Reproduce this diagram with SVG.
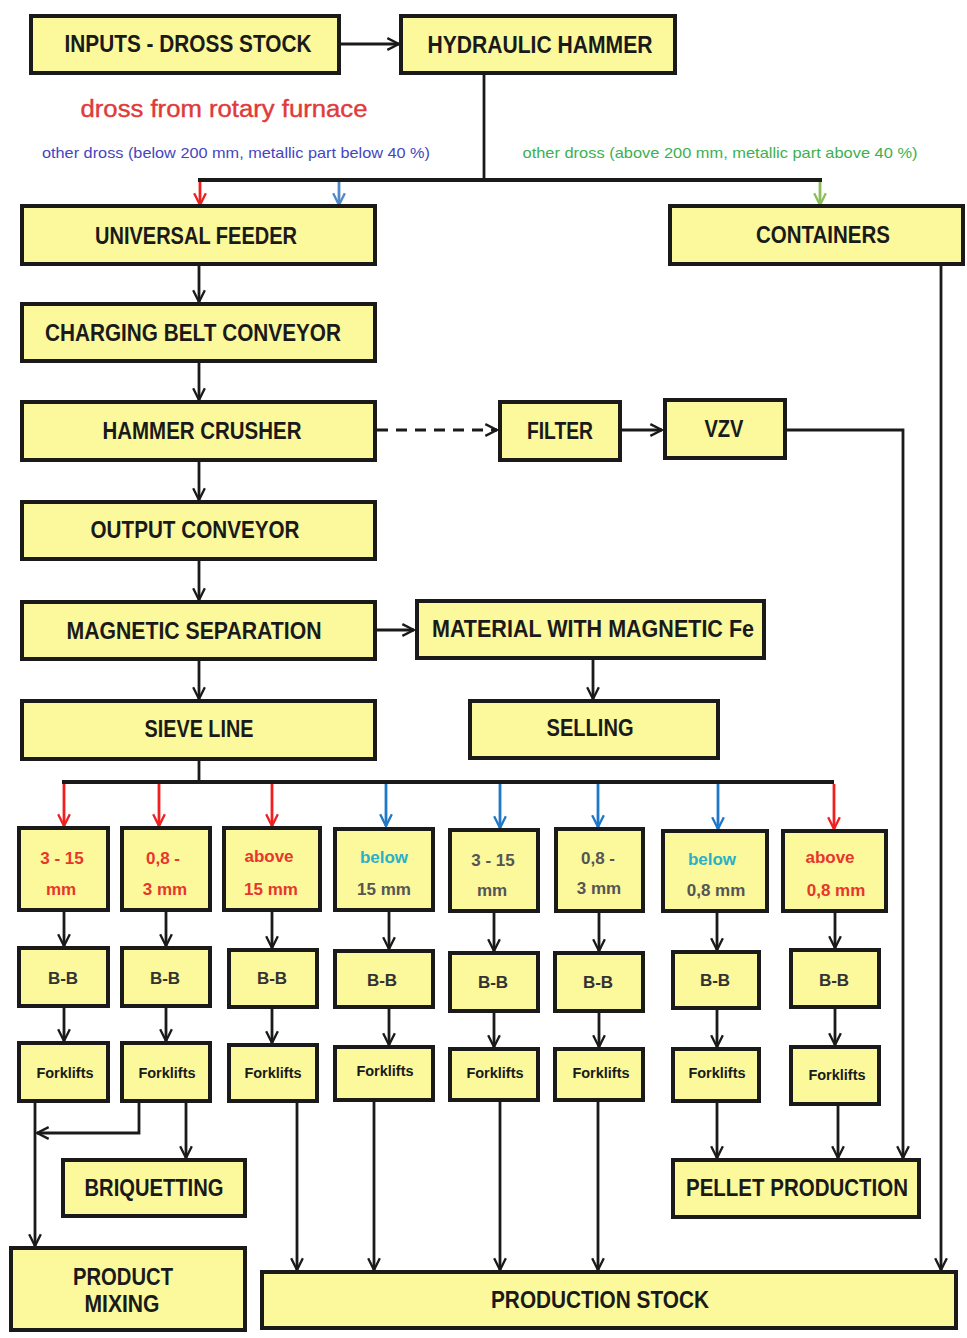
<svg xmlns="http://www.w3.org/2000/svg" width="967" height="1338" viewBox="0 0 967 1338">
<defs>
<style>
.box{fill:#fbf99b;stroke:#1a1a1a;stroke-width:4}
.t{font-family:"Liberation Sans",Arial,sans-serif;font-weight:bold;font-size:23px;fill:#1a1a1a;text-anchor:middle;dominant-baseline:central}
.s{font-family:"Liberation Sans",Arial,sans-serif;font-weight:bold;font-size:17px;text-anchor:middle;dominant-baseline:central}
.f{font-family:"Liberation Sans",Arial,sans-serif;font-weight:bold;font-size:14.5px;fill:#1a1a1a;text-anchor:middle;dominant-baseline:central}
.c{fill:none;stroke:#1a1a1a;stroke-width:2.8}
.bus{fill:none;stroke:#1a1a1a;stroke-width:4}
.red{fill:#e8362a}.gray{fill:#555}.cyan{fill:#2ab0c8}
</style>
<marker id="ak" viewBox="0 0 12 12" refX="11" refY="6" markerWidth="14" markerHeight="14" markerUnits="userSpaceOnUse" orient="auto"><path d="M1,1 L11,6 L1,11" fill="none" stroke="#1a1a1a" stroke-width="2"/></marker>
<marker id="ar" viewBox="0 0 12 12" refX="11" refY="6" markerWidth="14" markerHeight="14" markerUnits="userSpaceOnUse" orient="auto"><path d="M1,1 L11,6 L1,11" fill="none" stroke="#f02020" stroke-width="2"/></marker>
<marker id="ab" viewBox="0 0 12 12" refX="11" refY="6" markerWidth="14" markerHeight="14" markerUnits="userSpaceOnUse" orient="auto"><path d="M1,1 L11,6 L1,11" fill="none" stroke="#1f78c8" stroke-width="2"/></marker>
<marker id="ab2" viewBox="0 0 12 12" refX="11" refY="6" markerWidth="14" markerHeight="14" markerUnits="userSpaceOnUse" orient="auto"><path d="M1,1 L11,6 L1,11" fill="none" stroke="#5088c8" stroke-width="2"/></marker>
<marker id="ag" viewBox="0 0 12 12" refX="11" refY="6" markerWidth="14" markerHeight="14" markerUnits="userSpaceOnUse" orient="auto"><path d="M1,1 L11,6 L1,11" fill="none" stroke="#8cbf5a" stroke-width="2"/></marker>
</defs>
<rect width="967" height="1338" fill="#ffffff"/>

<g id="connectors">
<line class="c" x1="339" y1="44" x2="399" y2="44" marker-end="url(#ak)"/>
<line class="c" x1="484" y1="73" x2="484" y2="180"/>
<line class="bus" x1="198" y1="180" x2="822" y2="180"/>
<line stroke="#f02020" stroke-width="2.8" x1="200" y1="182" x2="200" y2="205" marker-end="url(#ar)"/>
<line stroke="#5088c8" stroke-width="2.8" x1="339" y1="182" x2="339" y2="205" marker-end="url(#ab2)"/>
<line stroke="#8cbf5a" stroke-width="2.8" x1="820" y1="182" x2="820" y2="205" marker-end="url(#ag)"/>
<line class="c" x1="199" y1="264" x2="199" y2="302" marker-end="url(#ak)"/>
<line class="c" x1="199" y1="361" x2="199" y2="400" marker-end="url(#ak)"/>
<line class="c" x1="377" y1="430" x2="497" y2="430" stroke-width="3.2" stroke-dasharray="11,8" marker-end="url(#ak)"/>
<line class="c" x1="620" y1="430" x2="662" y2="430" marker-end="url(#ak)"/>
<path class="c" d="M785,430 H903 V1158" marker-end="url(#ak)"/>
<line class="c" x1="941" y1="264" x2="941" y2="1270" marker-end="url(#ak)"/>
<line class="c" x1="199" y1="460" x2="199" y2="500" marker-end="url(#ak)"/>
<line class="c" x1="199" y1="559" x2="199" y2="600" marker-end="url(#ak)"/>
<line class="c" x1="375" y1="630" x2="414" y2="630" marker-end="url(#ak)"/>
<line class="c" x1="593" y1="658" x2="593" y2="699" marker-end="url(#ak)"/>
<line class="c" x1="199" y1="659" x2="199" y2="699" marker-end="url(#ak)"/>
<line class="c" x1="199" y1="759" x2="199" y2="782"/>
<line class="bus" x1="62" y1="782" x2="834" y2="782"/>
<line stroke="#f02020" stroke-width="2.8" x1="64" y1="784" x2="64" y2="826" marker-end="url(#ar)"/>
<line stroke="#f02020" stroke-width="2.8" x1="159" y1="784" x2="159" y2="826" marker-end="url(#ar)"/>
<line stroke="#f02020" stroke-width="2.8" x1="272" y1="784" x2="272" y2="826" marker-end="url(#ar)"/>
<line stroke="#1f78c8" stroke-width="2.8" x1="386" y1="784" x2="386" y2="826" marker-end="url(#ab)"/>
<line stroke="#1f78c8" stroke-width="2.8" x1="500" y1="784" x2="500" y2="828" marker-end="url(#ab)"/>
<line stroke="#1f78c8" stroke-width="2.8" x1="598" y1="784" x2="598" y2="827" marker-end="url(#ab)"/>
<line stroke="#1f78c8" stroke-width="2.8" x1="718" y1="784" x2="718" y2="829" marker-end="url(#ab)"/>
<line stroke="#f02020" stroke-width="2.8" x1="834" y1="784" x2="834" y2="829" marker-end="url(#ar)"/>
<line class="c" x1="64" y1="910" x2="64" y2="946" marker-end="url(#ak)"/>
<line class="c" x1="166" y1="910" x2="166" y2="946" marker-end="url(#ak)"/>
<line class="c" x1="272" y1="910" x2="272" y2="948" marker-end="url(#ak)"/>
<line class="c" x1="389" y1="910" x2="389" y2="949" marker-end="url(#ak)"/>
<line class="c" x1="494" y1="911" x2="494" y2="951" marker-end="url(#ak)"/>
<line class="c" x1="599" y1="911" x2="599" y2="951" marker-end="url(#ak)"/>
<line class="c" x1="717" y1="911" x2="717" y2="950" marker-end="url(#ak)"/>
<line class="c" x1="835" y1="911" x2="835" y2="948" marker-end="url(#ak)"/>
<line class="c" x1="64" y1="1006" x2="64" y2="1041" marker-end="url(#ak)"/>
<line class="c" x1="166" y1="1006" x2="166" y2="1041" marker-end="url(#ak)"/>
<line class="c" x1="272" y1="1007" x2="272" y2="1043" marker-end="url(#ak)"/>
<line class="c" x1="389" y1="1007" x2="389" y2="1045" marker-end="url(#ak)"/>
<line class="c" x1="494" y1="1011" x2="494" y2="1047" marker-end="url(#ak)"/>
<line class="c" x1="599" y1="1011" x2="599" y2="1047" marker-end="url(#ak)"/>
<line class="c" x1="717" y1="1008" x2="717" y2="1047" marker-end="url(#ak)"/>
<line class="c" x1="835" y1="1007" x2="835" y2="1045" marker-end="url(#ak)"/>
<line class="c" x1="35" y1="1101" x2="35" y2="1246" marker-end="url(#ak)"/>
<path class="c" d="M139,1101 V1133 H37" marker-end="url(#ak)"/>
<line class="c" x1="186" y1="1101" x2="186" y2="1158" marker-end="url(#ak)"/>
<line class="c" x1="297" y1="1101" x2="297" y2="1270" marker-end="url(#ak)"/>
<line class="c" x1="374" y1="1100" x2="374" y2="1270" marker-end="url(#ak)"/>
<line class="c" x1="500" y1="1100" x2="500" y2="1270" marker-end="url(#ak)"/>
<line class="c" x1="598" y1="1100" x2="598" y2="1270" marker-end="url(#ak)"/>
<line class="c" x1="717" y1="1101" x2="717" y2="1158" marker-end="url(#ak)"/>
<line class="c" x1="838" y1="1104" x2="838" y2="1158" marker-end="url(#ak)"/>
</g>

<g id="labels">
<text x="224" y="109" font-family="'Liberation Sans',Arial,sans-serif" font-size="23" fill="#e03a3a" stroke="#e03a3a" stroke-width="0.4" text-anchor="middle" dominant-baseline="central" textLength="287" lengthAdjust="spacingAndGlyphs">dross from rotary furnace</text>
<text x="236" y="152" font-family="'Liberation Sans',Arial,sans-serif" font-size="15" fill="#4545c0" text-anchor="middle" dominant-baseline="central" textLength="388" lengthAdjust="spacingAndGlyphs">other dross (below 200 mm, metallic part below 40 %)</text>
<text x="720" y="152" font-family="'Liberation Sans',Arial,sans-serif" font-size="15" fill="#3cb050" text-anchor="middle" dominant-baseline="central" textLength="395" lengthAdjust="spacingAndGlyphs">other dross (above 200 mm, metallic part above 40 %)</text>
</g>

<g id="n-inputs"><rect class="box" x="31" y="16" width="308" height="57"/><text class="t" x="188" y="44" textLength="247" lengthAdjust="spacingAndGlyphs">INPUTS - DROSS STOCK</text></g>
<g id="n-hammer"><rect class="box" x="401" y="16" width="274" height="57"/><text class="t" x="540" y="45" textLength="225" lengthAdjust="spacingAndGlyphs">HYDRAULIC HAMMER</text></g>
<g id="n-feeder"><rect class="box" x="22" y="206" width="353" height="58"/><text class="t" x="196" y="236" textLength="202" lengthAdjust="spacingAndGlyphs">UNIVERSAL FEEDER</text></g>
<g id="n-containers"><rect class="box" x="670" y="206" width="293" height="58"/><text class="t" x="823" y="235" textLength="134" lengthAdjust="spacingAndGlyphs">CONTAINERS</text></g>
<g id="n-charging"><rect class="box" x="22" y="304" width="353" height="57"/><text class="t" x="193" y="333" textLength="296" lengthAdjust="spacingAndGlyphs">CHARGING BELT CONVEYOR</text></g>
<g id="n-crusher"><rect class="box" x="22" y="402" width="353" height="58"/><text class="t" x="202" y="431" textLength="199" lengthAdjust="spacingAndGlyphs">HAMMER CRUSHER</text></g>
<g id="n-filter"><rect class="box" x="500" y="402" width="120" height="58"/><text class="t" x="560" y="431" font-size="19" textLength="66" lengthAdjust="spacingAndGlyphs">FILTER</text></g>
<g id="n-vzv"><rect class="box" x="665" y="400" width="120" height="58"/><text class="t" x="724" y="429" font-size="19" textLength="39" lengthAdjust="spacingAndGlyphs">VZV</text></g>
<g id="n-output"><rect class="box" x="22" y="502" width="353" height="57"/><text class="t" x="195" y="530" textLength="209" lengthAdjust="spacingAndGlyphs">OUTPUT CONVEYOR</text></g>
<g id="n-magsep"><rect class="box" x="22" y="602" width="353" height="57"/><text class="t" x="194" y="631" textLength="255" lengthAdjust="spacingAndGlyphs">MAGNETIC SEPARATION</text></g>
<g id="n-material"><rect class="box" x="417" y="601" width="347" height="57"/><text class="t" x="593" y="629" textLength="322" lengthAdjust="spacingAndGlyphs">MATERIAL WITH MAGNETIC Fe</text></g>
<g id="n-sieve"><rect class="box" x="22" y="701" width="353" height="58"/><text class="t" x="199" y="729" textLength="109" lengthAdjust="spacingAndGlyphs">SIEVE LINE</text></g>
<g id="n-selling"><rect class="box" x="470" y="701" width="248" height="57"/><text class="t" x="590" y="728" textLength="87" lengthAdjust="spacingAndGlyphs">SELLING</text></g>

<g id="n-s1"><rect class="box" x="19" y="828" width="89" height="82"/><text class="s red" x="62" y="858">3 - 15</text><text class="s red" x="61" y="889">mm</text></g>
<g id="n-s2"><rect class="box" x="122" y="828" width="88" height="82"/><text class="s red" x="163" y="858">0,8 -</text><text class="s red" x="165" y="889">3 mm</text></g>
<g id="n-s3"><rect class="box" x="224" y="828" width="96" height="82"/><text class="s red" x="269" y="856" font-weight="normal">above</text><text class="s red" x="271" y="889">15 mm</text></g>
<g id="n-s4"><rect class="box" x="335" y="829" width="98" height="81"/><text class="s cyan" x="384" y="857" font-weight="normal">below</text><text class="s gray" x="384" y="889">15 mm</text></g>
<g id="n-s5"><rect class="box" x="450" y="830" width="88" height="81"/><text class="s gray" x="493" y="860">3 - 15</text><text class="s gray" x="492" y="890">mm</text></g>
<g id="n-s6"><rect class="box" x="556" y="829" width="87" height="82"/><text class="s gray" x="598" y="858">0,8 -</text><text class="s gray" x="599" y="888">3 mm</text></g>
<g id="n-s7"><rect class="box" x="663" y="831" width="104" height="80"/><text class="s cyan" x="712" y="859" font-weight="normal">below</text><text class="s gray" x="716" y="890">0,8 mm</text></g>
<g id="n-s8"><rect class="box" x="783" y="831" width="103" height="80"/><text class="s red" x="830" y="857" font-weight="normal">above</text><text class="s red" x="836" y="890">0,8 mm</text></g>

<g id="n-bb1"><rect class="box" x="19" y="948" width="89" height="58"/><text class="s" x="63" y="978" fill="#333">B-B</text></g>
<g id="n-bb2"><rect class="box" x="122" y="948" width="88" height="58"/><text class="s" x="165" y="978" fill="#333">B-B</text></g>
<g id="n-bb3"><rect class="box" x="229" y="950" width="88" height="57"/><text class="s" x="272" y="978" fill="#333">B-B</text></g>
<g id="n-bb4"><rect class="box" x="335" y="951" width="98" height="56"/><text class="s" x="382" y="980" fill="#333">B-B</text></g>
<g id="n-bb5"><rect class="box" x="450" y="953" width="88" height="58"/><text class="s" x="493" y="982" fill="#333">B-B</text></g>
<g id="n-bb6"><rect class="box" x="555" y="953" width="88" height="58"/><text class="s" x="598" y="982" fill="#333">B-B</text></g>
<g id="n-bb7"><rect class="box" x="673" y="952" width="86" height="56"/><text class="s" x="715" y="980" fill="#333">B-B</text></g>
<g id="n-bb8"><rect class="box" x="791" y="950" width="88" height="57"/><text class="s" x="834" y="980" fill="#333">B-B</text></g>

<g id="n-fk1"><rect class="box" x="19" y="1043" width="89" height="58"/><text class="f" x="65" y="1073">Forklifts</text></g>
<g id="n-fk2"><rect class="box" x="122" y="1043" width="88" height="58"/><text class="f" x="167" y="1073">Forklifts</text></g>
<g id="n-fk3"><rect class="box" x="229" y="1045" width="88" height="56"/><text class="f" x="273" y="1073">Forklifts</text></g>
<g id="n-fk4"><rect class="box" x="335" y="1047" width="98" height="53"/><text class="f" x="385" y="1071">Forklifts</text></g>
<g id="n-fk5"><rect class="box" x="450" y="1049" width="88" height="51"/><text class="f" x="495" y="1073">Forklifts</text></g>
<g id="n-fk6"><rect class="box" x="555" y="1049" width="88" height="51"/><text class="f" x="601" y="1073">Forklifts</text></g>
<g id="n-fk7"><rect class="box" x="673" y="1049" width="86" height="52"/><text class="f" x="717" y="1073">Forklifts</text></g>
<g id="n-fk8"><rect class="box" x="791" y="1047" width="88" height="57"/><text class="f" x="837" y="1075">Forklifts</text></g>

<g id="n-briq"><rect class="box" x="63" y="1160" width="182" height="56"/><text class="t" x="154" y="1188" textLength="139" lengthAdjust="spacingAndGlyphs">BRIQUETTING</text></g>
<g id="n-pellet"><rect class="box" x="673" y="1160" width="246" height="57"/><text class="t" x="797" y="1188" textLength="222" lengthAdjust="spacingAndGlyphs">PELLET PRODUCTION</text></g>
<g id="n-mixing"><rect class="box" x="11" y="1248" width="234" height="82"/><text class="t" x="123" y="1277" textLength="100" lengthAdjust="spacingAndGlyphs">PRODUCT</text><text class="t" x="122" y="1304" textLength="75" lengthAdjust="spacingAndGlyphs">MIXING</text></g>
<g id="n-stock"><rect class="box" x="262" y="1272" width="694" height="56"/><text class="t" x="600" y="1300" textLength="218" lengthAdjust="spacingAndGlyphs">PRODUCTION STOCK</text></g>
</svg>
